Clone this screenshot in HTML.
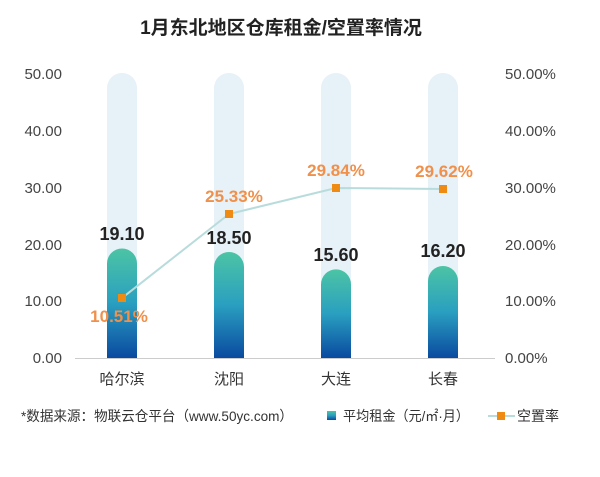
<!DOCTYPE html>
<html><head><meta charset="utf-8"><style>
body{margin:0;background:#fff;}
svg text{font-family:"Liberation Sans","Noto Sans CJK SC",sans-serif;}
</style></head><body>
<svg width="600" height="472" viewBox="0 0 600 472" xmlns="http://www.w3.org/2000/svg">
<defs>
<linearGradient id="g" x1="0" y1="0" x2="0" y2="1">
<stop offset="0" stop-color="#4cc4a4"/><stop offset="0.5" stop-color="#2a9fc0"/><stop offset="1" stop-color="#0a4aa0"/>
</linearGradient>
</defs>
<text x="281" y="34" font-size="19" font-weight="bold" fill="#222" text-anchor="middle">1月东北地区仓库租金/空置率情况</text>
<g font-size="15" fill="#444">
<text x="62" y="79" text-anchor="end">50.00</text>
<text x="62" y="136" text-anchor="end">40.00</text>
<text x="62" y="193" text-anchor="end">30.00</text>
<text x="62" y="250" text-anchor="end">20.00</text>
<text x="62" y="306" text-anchor="end">10.00</text>
<text x="62" y="363" text-anchor="end">0.00</text>
<text x="505" y="79">50.00%</text>
<text x="505" y="136">40.00%</text>
<text x="505" y="193">30.00%</text>
<text x="505" y="250">20.00%</text>
<text x="505" y="306">10.00%</text>
<text x="505" y="363">0.00%</text>
</g>
<g fill="#e6f1f8">
<rect x="107" y="73" width="30" height="285" rx="15"/>
<rect x="214" y="73" width="30" height="285" rx="15"/>
<rect x="321" y="73" width="30" height="285" rx="15"/>
<rect x="428" y="73" width="30" height="285" rx="15"/>
</g>
<path d="M107 358V263.5a15 15 0 0 1 30 0V358Z" fill="url(#g)"/>
<path d="M214 358V267a15 15 0 0 1 30 0V358Z" fill="url(#g)"/>
<path d="M321 358V284.4a15 15 0 0 1 30 0V358Z" fill="url(#g)"/>
<path d="M428 358V281a15 15 0 0 1 30 0V358Z" fill="url(#g)"/>
<line x1="75" y1="358.5" x2="495" y2="358.5" stroke="#ccc" stroke-width="1"/>
<g font-size="15" fill="#333" text-anchor="middle">
<text x="122" y="384">哈尔滨</text>
<text x="229" y="384">沈阳</text>
<text x="336" y="384">大连</text>
<text x="443" y="384">长春</text>
</g>
<g font-size="18" font-weight="bold" fill="#222" text-anchor="middle">
<text x="122" y="240">19.10</text>
<text x="229" y="244">18.50</text>
<text x="336" y="261">15.60</text>
<text x="443" y="257">16.20</text>
</g>
<polyline points="122,298 229,214 336,188 443,189" fill="none" stroke="#b8dcdc" stroke-width="2"/>
<g fill="#ef8a12">
<rect x="118" y="294" width="8" height="8"/>
<rect x="225" y="210" width="8" height="8"/>
<rect x="332" y="184" width="8" height="8"/>
<rect x="439" y="185" width="8" height="8"/>
</g>
<g font-size="17" font-weight="bold" fill="#f0904a" text-anchor="middle">
<text x="119" y="322">10.51%</text>
<text x="234" y="202">25.33%</text>
<text x="336" y="176">29.84%</text>
<text x="444" y="177">29.62%</text>
</g>
<text x="21" y="421" font-size="14" fill="#333" textLength="272" lengthAdjust="spacingAndGlyphs">*数据来源：物联云仓平台（www.50yc.com）</text>
<rect x="327" y="411" width="9" height="9" fill="url(#g)"/>
<text x="343" y="421" font-size="14" fill="#333" textLength="126" lengthAdjust="spacingAndGlyphs">平均租金（元/㎡·月）</text>
<line x1="488" y1="416" x2="515" y2="416" stroke="#b8dcdc" stroke-width="2"/>
<rect x="497" y="412" width="8" height="8" fill="#ef8a12"/>
<text x="517" y="421" font-size="14" fill="#333">空置率</text>
</svg>
</body></html>
